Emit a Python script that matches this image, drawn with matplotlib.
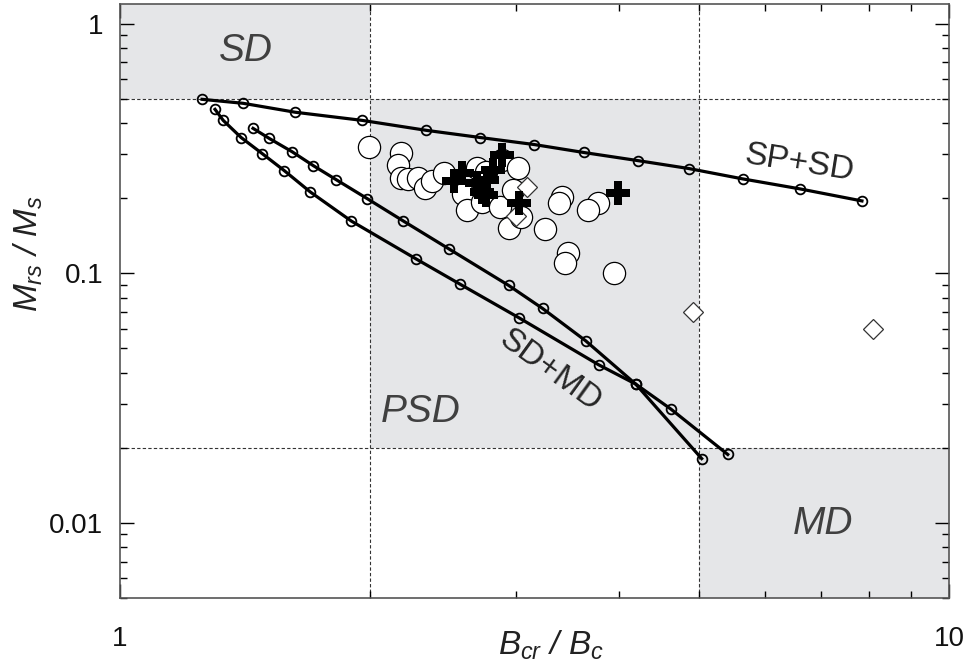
import matplotlib
matplotlib.use("Agg")
import matplotlib.pyplot as plt
from matplotlib.ticker import LogLocator, NullFormatter

plt.rcParams['font.family'] = ['Liberation Sans', 'DejaVu Sans']
plt.rcParams['mathtext.fontset'] = 'custom'
plt.rcParams['mathtext.rm'] = 'Liberation Sans:italic'
plt.rcParams['mathtext.it'] = 'Liberation Sans:italic'
plt.rcParams['mathtext.bf'] = 'Liberation Sans:bold'

# Domain boundaries (Bcr/Bc and Mrs/Ms)
bc_ratio_bounds = [2.0, 5.0]
mr_ratio_bounds = [0.02, 0.5]

# Theoretical mixing curves
sp_sd_x = [1.256, 1.408, 1.627, 1.960, 2.342, 2.721, 3.162, 3.624, 4.211, 4.853, 5.638, 6.607, 7.852]
sp_sd_y = [0.498, 0.480, 0.442, 0.410, 0.374, 0.350, 0.328, 0.305, 0.283, 0.263, 0.239, 0.218, 0.195]

sd_md1_x = [1.302, 1.332, 1.400, 1.484, 1.578, 1.696, 1.901, 2.278, 2.574, 3.025, 3.779, 4.188, 4.617, 5.409]
sd_md1_y = [0.454, 0.410, 0.350, 0.302, 0.258, 0.212, 0.162, 0.114, 0.0903, 0.0665, 0.0430, 0.0360, 0.0286, 0.0188]

sd_md2_x = [1.447, 1.514, 1.613, 1.711, 1.824, 1.988, 2.197, 2.496, 2.942, 3.234, 3.644, 4.188, 5.031]
sd_md2_y = [0.381, 0.347, 0.307, 0.270, 0.237, 0.199, 0.162, 0.125, 0.0895, 0.0723, 0.0537, 0.0360, 0.0181]

# Sample measurements
circ_x = [1.998, 2.185, 2.166, 2.185, 2.228, 2.291, 2.335, 2.381, 2.462, 2.692, 2.596, 2.625,
          2.760, 2.736, 2.877, 2.893, 3.017, 2.983, 2.942, 3.042, 3.252, 3.409, 3.381, 3.769,
          3.664, 3.466, 3.446, 3.939]
circ_y = [0.321, 0.303, 0.2715, 0.2407, 0.2385, 0.2407, 0.2195, 0.234, 0.252, 0.264, 0.2076, 0.179,
          0.2544, 0.193, 0.184, 0.2843, 0.264, 0.2155, 0.1516, 0.1679, 0.1502, 0.202, 0.191, 0.191,
          0.179, 0.1203, 0.1097, 0.100]

cross_x = [2.532, 2.588, 2.699, 2.736, 2.775, 2.821, 2.893, 2.767, 3.025, 3.983]
cross_y = [0.234, 0.252, 0.2298, 0.2115, 0.2363, 0.2593, 0.2978, 0.2057, 0.191, 0.2096]

diam_x = [3.093, 3.008, 4.908, 8.094]
diam_y = [0.2215, 0.1694, 0.0697, 0.0601]

fig = plt.figure(figsize=(9.72, 6.68), dpi=100)
ax = fig.add_axes([120 / 972, 1 - 598 / 668, 829 / 972, 594 / 668])
ax.set_xscale('log')
ax.set_yscale('log')
ax.set_xlim(1, 10)
ax.set_ylim(0.005, 1.2)

shade = '#e5e6e8'
b2, b5 = bc_ratio_bounds
m_lo, m_hi = mr_ratio_bounds
ax.fill_between([1, b2], m_hi, 1.2, color=shade, lw=0, zorder=0)
ax.fill_between([b2, b5], m_lo, m_hi, color=shade, lw=0, zorder=0)
ax.fill_between([b5, 10], 0.005, m_lo, color=shade, lw=0, zorder=0)

dash = dict(color='#333333', lw=0.8, ls=(0, (3, 2)), zorder=1)
for b in bc_ratio_bounds:
    ax.axvline(b, **dash)
for m in mr_ratio_bounds:
    ax.axhline(m, **dash)

curve = dict(color='black', lw=2.3, marker='o', ms=7, mfc='none', mec='black', mew=1.3, zorder=3)
ax.plot(sp_sd_x, sp_sd_y, **curve)
ax.plot(sd_md1_x, sd_md1_y, **curve)
ax.plot(sd_md2_x, sd_md2_y, **curve)

ax.plot(circ_x, circ_y, ls='none', marker='o', ms=16, mfc='white', mec='black', mew=0.9, zorder=4)
ax.plot(diam_x, diam_y, ls='none', marker='D', ms=10, mfc='white', mec='#333333', mew=0.9, zorder=5)
ax.plot(cross_x, cross_y, ls='none', marker='P', ms=17, mfc='black', mec='black', mew=0, zorder=6)

# Domain labels
region = dict(fontsize=28, style='italic', color='#404040', ha='center', va='center', zorder=7)
ax.text(1.42, 0.775, 'SD', **region)
ax.text(2.304, 0.0277, 'PSD', **region)
ax.text(7.04, 0.0099, 'MD', **region)

ax.text(6.607, 0.2766, 'SP+SD', fontsize=24, color='#262626', rotation=-9,
        ha='center', va='center', rotation_mode='anchor', zorder=7)
ax.text(3.306, 0.0408, 'SD+MD', fontsize=24, color='#262626', rotation=-36,
        ha='center', va='center', rotation_mode='anchor', zorder=7)

# Axes styling
ax.set_xticks([1, 10])
ax.set_xticklabels(['1', '10'])
ax.set_yticks([0.01, 0.1, 1])
ax.set_yticklabels(['0.01', '0.1', '1'])
ax.xaxis.set_minor_locator(LogLocator(base=10, subs=range(2, 10)))
ax.yaxis.set_minor_locator(LogLocator(base=10, subs=range(2, 10)))
ax.xaxis.set_minor_formatter(NullFormatter())
ax.yaxis.set_minor_formatter(NullFormatter())
ax.tick_params(which='both', direction='in', top=True, right=True, color='black')
ax.tick_params(which='major', length=10, width=1, labelsize=20, labelcolor='#111111')
ax.tick_params(which='minor', length=5, width=1)
ax.tick_params(axis='x', which='major', pad=20)
ax.tick_params(axis='y', which='major', pad=12)
for s in ax.spines.values():
    s.set_color('#555555')
    s.set_linewidth(1.2)

ax.set_xlabel(r'$B_{cr}\ /\ B_c$', fontsize=24, color='#222222')
ax.set_ylabel(r'$M_{rs}\ /\ M_s$', fontsize=24, color='#222222')
ax.xaxis.set_label_coords(0.52, -0.052)
ax.yaxis.set_label_coords(-0.090, 0.58)

fig.savefig('out.png', dpi=100)
